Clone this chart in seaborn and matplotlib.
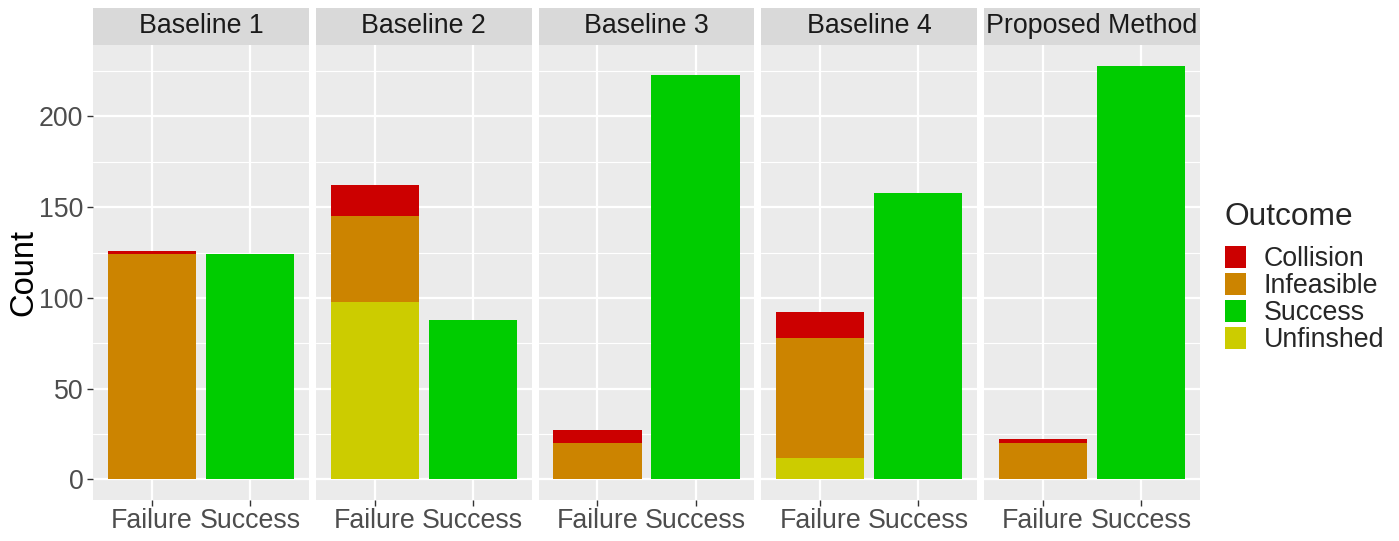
import numpy as np
import pandas as pd
import matplotlib
matplotlib.use("Agg")
import matplotlib.pyplot as plt
from matplotlib.patches import Patch, Rectangle
import seaborn as sns

methods = ["Baseline 1", "Baseline 2", "Baseline 3", "Baseline 4", "Proposed Method"]
results = ["Failure", "Success"]
outcomes = ["Collision", "Infeasible", "Success", "Unfinshed"]
colors = {"Collision": "#CC0000", "Infeasible": "#CC8400",
          "Success": "#00CC00", "Unfinshed": "#CCCC00"}

# counts per method, failure split by outcome
collision = [2, 17, 7, 14, 2]
infeasible = [124, 47, 20, 66, 20]
unfinished = [0, 98, 0, 12, 0]
success = [124, 88, 223, 158, 228]

rows = []
for i, m in enumerate(methods):
    rows.append((m, "Failure", "Unfinshed", unfinished[i]))
    rows.append((m, "Failure", "Infeasible", infeasible[i]))
    rows.append((m, "Failure", "Collision", collision[i]))
    rows.append((m, "Success", "Success", success[i]))
df = pd.DataFrame(rows, columns=["Method", "Result", "Outcome", "Count"])
# stacking order: Unfinshed at bottom, Collision on top
df["top"] = df.groupby(["Method", "Result"])["Count"].cumsum()

sns.set_theme(style="darkgrid", rc={
    "axes.facecolor": "#EBEBEB", "grid.color": "white",
    "axes.edgecolor": "none",
})
plt.rcParams["font.family"] = ["Liberation Sans", "DejaVu Sans"]

W, H = 1399, 541
fig, axes = plt.subplots(1, 5, figsize=(W / 100, H / 100), dpi=100, sharey=True)
left, right, top, bottom = 93, 1200, 45, 500
fig.subplots_adjust(left=left / W, right=right / W, top=1 - top / H,
                    bottom=1 - bottom / H, wspace=7 / 216)

fs = 19.3
draw_order = ["Collision", "Infeasible", "Unfinshed", "Success"]
for ax, m in zip(axes, methods):
    sub = df[df["Method"] == m]
    for o in draw_order:
        d = sub[sub["Outcome"] == o]
        if d["Count"].sum() == 0:
            continue
        sns.barplot(data=d, x="Result", y="top", order=results, color=colors[o],
                    width=0.9, saturation=1, linewidth=0, ax=ax, zorder=3)
    ax.set_xlim(-0.6, 1.6)
    ax.set_ylim(-11.4, 239.4)
    ax.set_yticks([0, 50, 100, 150, 200])
    ax.set_yticks([25, 75, 125, 175, 225], minor=True)
    ax.grid(which="major", color="white", linewidth=1.6, zorder=0)
    ax.grid(which="minor", axis="y", color="white", linewidth=0.8, zorder=0)
    ax.set_axisbelow(True)
    ax.set_xlabel("")
    ax.set_ylabel("")
    ax.tick_params(axis="x", which="major", length=4, width=1, color="#333333",
                   labelsize=fs, labelcolor="#4D4D4D", pad=2, bottom=True)
    ax.tick_params(axis="y", which="major", length=4, width=1, color="#333333",
                   labelsize=fs, labelcolor="#4D4D4D", pad=3, left=True)
    ax.tick_params(axis="y", which="minor", length=0)
    for s in ax.spines.values():
        s.set_visible(False)
    strip_h = 37 / (bottom - top)
    ax.add_patch(Rectangle((0, 1), 1, strip_h, transform=ax.transAxes,
                           facecolor="#D9D9D9", edgecolor="none", clip_on=False))
    ax.text(0.5, 1 + strip_h / 2, m, transform=ax.transAxes, ha="center",
            va="center", fontsize=fs, color="#1A1A1A")

for ax in axes[1:]:
    ax.tick_params(axis="y", which="major", left=False, labelleft=False)

axes[0].set_ylabel("Count", fontsize=23.5, color="black", labelpad=-0.5)

handles = [Patch(facecolor=colors[o], edgecolor="none", label=o) for o in outcomes]
leg = fig.legend(handles=handles, title="Outcome", loc="upper left",
                 bbox_to_anchor=(1214 / W, 1 - 191 / H), frameon=False,
                 fontsize=fs, title_fontsize=22.8, handlelength=0.8,
                 handleheight=0.92, handletextpad=0.65, labelspacing=0.02,
                 borderaxespad=0)
leg._legend_box.align = "left"
leg._legend_box.sep = 10

fig.savefig("out.png", dpi=100)
